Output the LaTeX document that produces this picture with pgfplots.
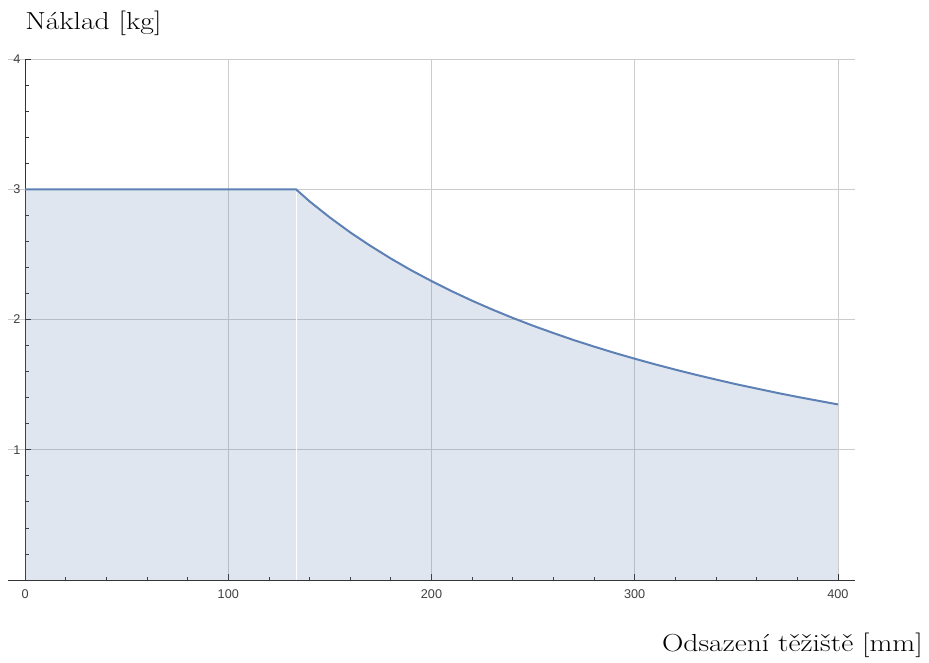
\documentclass[border=0pt]{standalone}
\usepackage{fontspec}
\usepackage{graphicx}
\usepackage{pgfplots}
\pgfplotsset{compat=1.18}
\newfontfamily\tickfont{Liberation Sans}
\definecolor{mblue}{RGB}{94,129,181}

\begin{document}
\begin{tikzpicture}
\begin{axis}[
    name=ax,
    scale only axis,
    width=635.25pt, height=390.75pt,
    xmin=-8.4, xmax=408.4,
    ymin=0, ymax=4,
    axis lines=middle,
    axis line style={black!80, line width=0.7pt, -},
    hide obscured x ticks=false,
    xtick={0,100,200,300,400},
    ytick={1,2,3,4},
    minor xtick={20,40,60,80,120,140,160,180,220,240,260,280,320,340,360,380},
    minor ytick={0.2,0.4,0.6,0.8,1.2,1.4,1.6,1.8,2.2,2.4,2.6,2.8,3.2,3.4,3.6,3.8},
    tick align=inside,
    major tick length=4.5pt,
    minor tick length=2.6pt,
    tick style={black!80, line width=0.6pt},
    grid=major,
    major grid style={black!20, line width=0.5pt},
    /pgf/number format/assume math mode=true,
    ticklabel style={font=\tickfont\fontsize{9.5}{11}\selectfont, text=black!75},
    xticklabel style={yshift=-4pt},
    clip=false,
]
% area under the curve
\addplot[draw=none, fill=mblue, fill opacity=0.2] coordinates {
    (0,3) (133.3,3) (140,2.907) (150,2.783) (160,2.669) (170,2.565)
    (180,2.468) (190,2.378) (200,2.295) (210,2.217) (220,2.144)
    (230,2.076) (240,2.012) (250,1.952) (260,1.896) (270,1.842)
    (280,1.792) (290,1.744) (300,1.699) (310,1.656) (320,1.615)
    (330,1.576) (340,1.539) (350,1.503) (360,1.470) (370,1.437)
    (380,1.406) (390,1.377) (400,1.348)
} \closedcycle;
% seam in the fill
\addplot[white, line width=0.6pt] coordinates {(133.3,0) (133.3,2.98)};
% the curve
\addplot[mblue, line width=1.5pt] coordinates {
    (0,3) (133.3,3) (140,2.907) (150,2.783) (160,2.669) (170,2.565)
    (180,2.468) (190,2.378) (200,2.295) (210,2.217) (220,2.144)
    (230,2.076) (240,2.012) (250,1.952) (260,1.896) (270,1.842)
    (280,1.792) (290,1.744) (300,1.699) (310,1.656) (320,1.615)
    (330,1.576) (340,1.539) (350,1.503) (360,1.470) (370,1.437)
    (380,1.406) (390,1.377) (400,1.348)
};
\end{axis}
\node[anchor=base west, inner sep=0pt, font=\fontsize{18.5}{22}\selectfont]
    at ([shift={(12.75pt,412.5pt)}]ax.south west) {\scalebox{1.2}[1]{Náklad [kg]}};
\node[anchor=base east, inner sep=0pt, font=\fontsize{18.5}{22}\selectfont]
    at ([shift={(686.25pt,-53.25pt)}]ax.south west) {\scalebox{1.2}[1]{Odsazení těžiště [mm]}};
\path (ax.south west) ++(-6pt,-61.5pt) rectangle ++(696.75pt,496.5pt);
\end{tikzpicture}
\end{document}
